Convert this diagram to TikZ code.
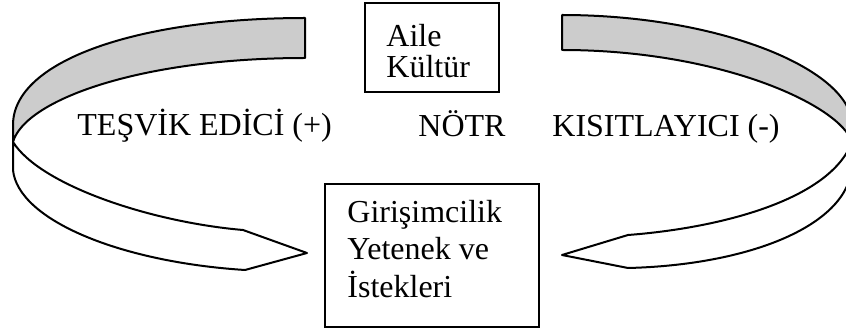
\documentclass[tikz,border=0pt]{standalone}
\usepackage{fontspec}
\setmainfont{Liberation Serif}
\usepackage{xcolor}
\usetikzlibrary{positioning}

\begin{document}
\begin{tikzpicture}[x=0.5pt,y=-0.5pt,font=\fontsize{16}{19}\selectfont,
	halka/.style={draw,line width=1pt,line join=round},
	kutu/.style={draw,line width=0.6pt,inner sep=0pt},
	yazi/.style={anchor=base west,inner sep=0pt}]
		\useasboundingbox (0,0) rectangle (846,336);

		\filldraw[halka,fill=black!20] (305,18) .. controls (140,18) and (13,60) .. (13,125) -- (13,142) .. controls (25,100) and (140,58) .. (305,58) -- cycle;
		\draw[halka,fill=white] (13,142) .. controls (40,185) and (150,222) .. (243,230) -- (307,253) -- (245,270) .. controls (120,262) and (18,220) .. (13,170) -- cycle;

		\filldraw[halka,fill=black!20] (562,15) .. controls (720,15) and (852,70) .. (852,125) -- (852,142) .. controls (840,105) and (720,50) .. (562,50) -- cycle;
		\draw[halka,fill=white] (852,142) .. controls (830,200) and (720,228) .. (628,235) -- (562,255) -- (628,268) .. controls (750,265) and (850,225) .. (852,165) -- cycle;

		\node[kutu,minimum width=67pt,minimum height=44.5pt] (aile) at (432,47.5) {};
		\node[yazi] (aile1) at (386,47) {Aile};
		\node[yazi] (aile2) at (386,78) {Kültür};

		\node[kutu,minimum width=107pt,minimum height=71.5pt] (girisim) at (432,255.5) {};
		\node[yazi] (girisim1) at (347,223) {Girişimcilik};
		\node[yazi] (girisim2) at (347,260) {Yetenek ve};
		\node[yazi] (girisim3) at (347,298) {İstekleri};

		\node[yazi] (tesvik) at (77,136) {TEŞVİK EDİCİ (+)};
		\node[yazi] (notr) at (418,137) {NÖTR};
		\node[yazi] (kisit) at (552,137) {KISITLAYICI (-)};
\end{tikzpicture}
\end{document}
